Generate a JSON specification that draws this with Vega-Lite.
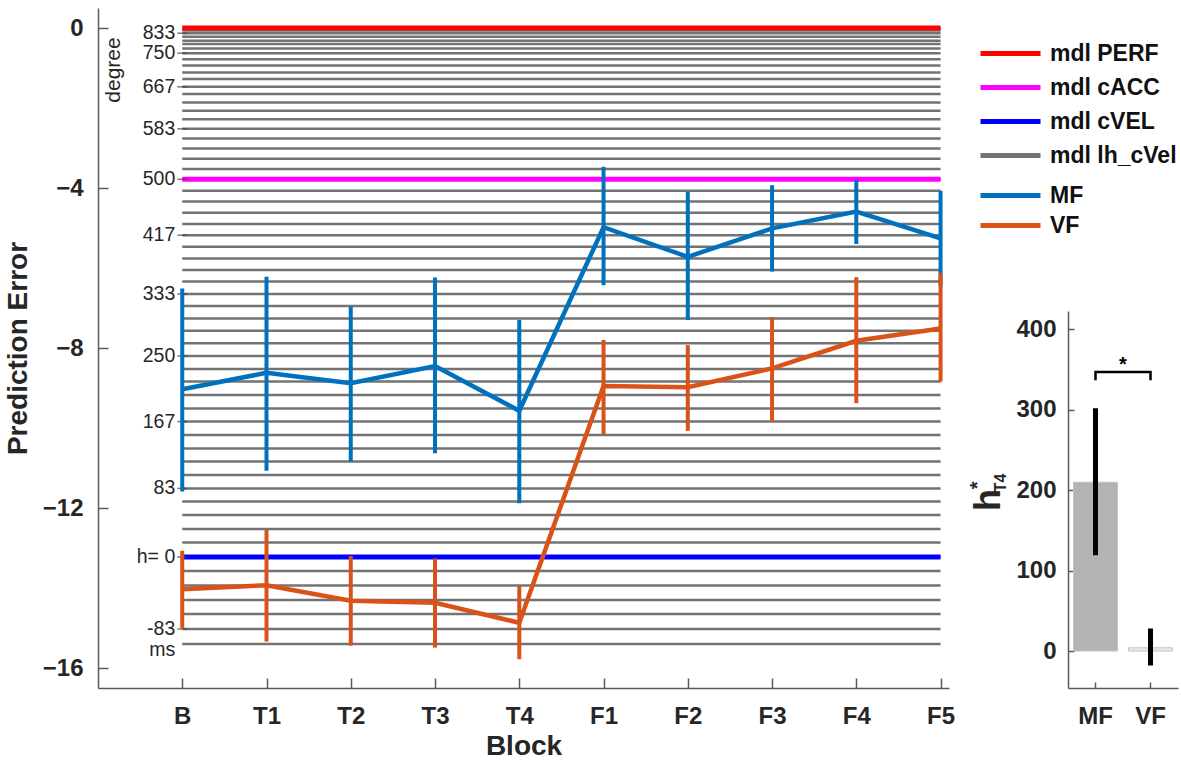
{
  "$schema": "https://vega.github.io/schema/vega-lite/v6.json",
  "padding": {"left": 4, "top": 8, "right": 3, "bottom": 3},
  "background": "white",
  "config": {
    "view": {"stroke": null},
    "font": "Liberation Sans",
    "axis": {
      "labelFont": "Liberation Sans", "labelFontWeight": "bold", "labelFontSize": 24, "labelColor": "#262626",
      "titleFont": "Liberation Sans", "titleFontWeight": "bold", "titleFontSize": 28, "titleColor": "#262626",
      "domainColor": "#5a5a5a", "domainWidth": 1.5, "tickColor": "#5a5a5a", "tickWidth": 1.5, "grid": false
    },
    "legend": {
      "orient": "none", "title": null,
      "labelFont": "Liberation Sans", "labelFontSize": 23, "labelFontWeight": "bold", "labelColor": "#111111",
      "symbolType": "M-3,0H3", "symbolSize": 400, "symbolStrokeWidth": 5,
      "symbolOffset": 20, "labelOffset": 27
    }
  },
  "datasets": {
    "models": [
      {"model": "mdl PERF", "h": null, "pe": 0},
      {"model": "mdl cACC", "h": 500, "pe": -3.78},
      {"model": "mdl cVEL", "h": 0, "pe": -13.225},
      {"model": "mdl lh_cVel", "h": -100, "pe": -15.4},
      {"model": "mdl lh_cVel", "h": -83, "pe": -15.025},
      {"model": "mdl lh_cVel", "h": -67, "pe": -14.65},
      {"model": "mdl lh_cVel", "h": -50, "pe": -14.3},
      {"model": "mdl lh_cVel", "h": -33, "pe": -13.94},
      {"model": "mdl lh_cVel", "h": -17, "pe": -13.575},
      {"model": "mdl lh_cVel", "h": 0, "pe": -13.225},
      {"model": "mdl lh_cVel", "h": 17, "pe": -12.86},
      {"model": "mdl lh_cVel", "h": 33, "pe": -12.525},
      {"model": "mdl lh_cVel", "h": 50, "pe": -12.175},
      {"model": "mdl lh_cVel", "h": 67, "pe": -11.84},
      {"model": "mdl lh_cVel", "h": 83, "pe": -11.51},
      {"model": "mdl lh_cVel", "h": 100, "pe": -11.175},
      {"model": "mdl lh_cVel", "h": 117, "pe": -10.84},
      {"model": "mdl lh_cVel", "h": 133, "pe": -10.51},
      {"model": "mdl lh_cVel", "h": 150, "pe": -10.175},
      {"model": "mdl lh_cVel", "h": 167, "pe": -9.84},
      {"model": "mdl lh_cVel", "h": 183, "pe": -9.51},
      {"model": "mdl lh_cVel", "h": 200, "pe": -9.175},
      {"model": "mdl lh_cVel", "h": 217, "pe": -8.84},
      {"model": "mdl lh_cVel", "h": 233, "pe": -8.525},
      {"model": "mdl lh_cVel", "h": 250, "pe": -8.2},
      {"model": "mdl lh_cVel", "h": 267, "pe": -7.88},
      {"model": "mdl lh_cVel", "h": 283, "pe": -7.57},
      {"model": "mdl lh_cVel", "h": 300, "pe": -7.26},
      {"model": "mdl lh_cVel", "h": 317, "pe": -6.95},
      {"model": "mdl lh_cVel", "h": 333, "pe": -6.65},
      {"model": "mdl lh_cVel", "h": 350, "pe": -6.34},
      {"model": "mdl lh_cVel", "h": 367, "pe": -6.05},
      {"model": "mdl lh_cVel", "h": 383, "pe": -5.76},
      {"model": "mdl lh_cVel", "h": 400, "pe": -5.47},
      {"model": "mdl lh_cVel", "h": 417, "pe": -5.18},
      {"model": "mdl lh_cVel", "h": 433, "pe": -4.9},
      {"model": "mdl lh_cVel", "h": 450, "pe": -4.62},
      {"model": "mdl lh_cVel", "h": 467, "pe": -4.34},
      {"model": "mdl lh_cVel", "h": 483, "pe": -4.07},
      {"model": "mdl lh_cVel", "h": 500, "pe": -3.78},
      {"model": "mdl lh_cVel", "h": 517, "pe": -3.525},
      {"model": "mdl lh_cVel", "h": 533, "pe": -3.27},
      {"model": "mdl lh_cVel", "h": 550, "pe": -3.01},
      {"model": "mdl lh_cVel", "h": 567, "pe": -2.76},
      {"model": "mdl lh_cVel", "h": 583, "pe": -2.52},
      {"model": "mdl lh_cVel", "h": 600, "pe": -2.28},
      {"model": "mdl lh_cVel", "h": 617, "pe": -2.07},
      {"model": "mdl lh_cVel", "h": 633, "pe": -1.86},
      {"model": "mdl lh_cVel", "h": 650, "pe": -1.65},
      {"model": "mdl lh_cVel", "h": 667, "pe": -1.47},
      {"model": "mdl lh_cVel", "h": 683, "pe": -1.275},
      {"model": "mdl lh_cVel", "h": 700, "pe": -1.11},
      {"model": "mdl lh_cVel", "h": 717, "pe": -0.94},
      {"model": "mdl lh_cVel", "h": 733, "pe": -0.78},
      {"model": "mdl lh_cVel", "h": 750, "pe": -0.63},
      {"model": "mdl lh_cVel", "h": 767, "pe": -0.51},
      {"model": "mdl lh_cVel", "h": 783, "pe": -0.4},
      {"model": "mdl lh_cVel", "h": 800, "pe": -0.32},
      {"model": "mdl lh_cVel", "h": 817, "pe": -0.22},
      {"model": "mdl lh_cVel", "h": 833, "pe": -0.13},
      {"model": "mdl lh_cVel", "h": 850, "pe": -0.065},
      {"model": "mdl lh_cVel", "h": 867, "pe": -0.02}
    ],
    "hlabels": [
      {"lab": "833", "pe": -0.13},
      {"lab": "750", "pe": -0.63},
      {"lab": "667", "pe": -1.47},
      {"lab": "583", "pe": -2.52},
      {"lab": "500", "pe": -3.78},
      {"lab": "417", "pe": -5.18},
      {"lab": "333", "pe": -6.65},
      {"lab": "250", "pe": -8.2},
      {"lab": "167", "pe": -9.84},
      {"lab": "83", "pe": -11.51},
      {"lab": "h= 0", "pe": -13.225},
      {"lab": "-83", "pe": -15.025}
    ],
    "units": [
      {"lab": "ms", "pe": -15.55, "rot": 0},
      {"lab": "degree", "pe": -1.05, "rot": 270}
    ],
    "perf": [
      {"block": "B", "grp": "MF", "mean": -9.03, "lo": -11.59, "hi": -6.51},
      {"block": "T1", "grp": "MF", "mean": -8.62, "lo": -11.07, "hi": -6.22},
      {"block": "T2", "grp": "MF", "mean": -8.88, "lo": -10.84, "hi": -6.97},
      {"block": "T3", "grp": "MF", "mean": -8.45, "lo": -10.63, "hi": -6.24},
      {"block": "T4", "grp": "MF", "mean": -9.57, "lo": -11.88, "hi": -7.3},
      {"block": "F1", "grp": "MF", "mean": -4.98, "lo": -6.43, "hi": -3.47},
      {"block": "F2", "grp": "MF", "mean": -5.72, "lo": -7.3, "hi": -4.09},
      {"block": "F3", "grp": "MF", "mean": -5.01, "lo": -6.09, "hi": -3.93},
      {"block": "F4", "grp": "MF", "mean": -4.59, "lo": -5.4, "hi": -3.8},
      {"block": "F5", "grp": "MF", "mean": -5.26, "lo": -6.45, "hi": -4.07},
      {"block": "B", "grp": "VF", "mean": -14.03, "lo": -15.01, "hi": -13.07},
      {"block": "T1", "grp": "VF", "mean": -13.93, "lo": -15.34, "hi": -12.55},
      {"block": "T2", "grp": "VF", "mean": -14.32, "lo": -15.44, "hi": -13.2},
      {"block": "T3", "grp": "VF", "mean": -14.37, "lo": -15.49, "hi": -13.26},
      {"block": "T4", "grp": "VF", "mean": -14.87, "lo": -15.78, "hi": -13.95},
      {"block": "F1", "grp": "VF", "mean": -8.95, "lo": -10.15, "hi": -7.8},
      {"block": "F2", "grp": "VF", "mean": -8.98, "lo": -10.07, "hi": -7.93},
      {"block": "F3", "grp": "VF", "mean": -8.51, "lo": -9.84, "hi": -7.23},
      {"block": "F4", "grp": "VF", "mean": -7.82, "lo": -9.38, "hi": -6.23},
      {"block": "F5", "grp": "VF", "mean": -7.51, "lo": -8.84, "hi": -6.13}
    ],
    "inset": [
      {"grp": "MF", "h": 210, "lo": 119, "hi": 302},
      {"grp": "VF", "h": 4, "lo": -18, "hi": 28}
    ],
    "bracket": [
      {"grp": "MF", "v": 337, "o": 0},
      {"grp": "MF", "v": 347, "o": 1},
      {"grp": "VF", "v": 347, "o": 2},
      {"grp": "VF", "v": 337, "o": 3}
    ]
  },
  "spacing": 119,
  "bounds": "flush",
  "hconcat": [
    {
      "width": 851,
      "height": 680,
      "layer": [
        {
          "data": {"name": "models"},
          "transform": [{"filter": "datum.model === 'mdl lh_cVel'"}],
          "mark": {"type": "rule", "strokeWidth": 2.5},
          "encoding": {
            "x": {"datum": "B", "type": "ordinal", "title": "Block",
              "scale": {"type": "point", "domain": ["B","T1","T2","T3","T4","F1","F2","F3","F4","F5"], "padding": 0.55, "align": 0.909},
              "axis": {"labelAngle": 0, "tickSize": -10, "labelPadding": 26, "titlePadding": 4}},
            "x2": {"datum": "F5"},
            "y": {"field": "pe", "type": "quantitative", "title": "Prediction Error",
              "scale": {"domain": [-16.5, 0.5], "nice": false, "zero": false},
              "axis": {"values": [-16, -12, -8, -4, 0], "tickSize": -10, "labelPadding": 25, "titlePadding": 10}},
            "stroke": {"field": "model", "type": "nominal",
              "scale": {"domain": ["mdl PERF", "mdl cACC", "mdl cVEL", "mdl lh_cVel"], "range": ["#ff0000", "#ff00ff", "#0000ff", "#737373"]},
              "legend": {"legendX": 880, "legendY": 33, "rowPadding": 9}}
          }
        },
        {
          "data": {"name": "models"},
          "transform": [{"filter": "datum.model !== 'mdl lh_cVel'"}],
          "mark": {"type": "rule", "strokeWidth": 5},
          "encoding": {
            "x": {"datum": "B", "type": "ordinal", "title": "Block"},
            "x2": {"datum": "F5"},
            "y": {"field": "pe", "type": "quantitative", "title": "Prediction Error"},
            "stroke": {"field": "model", "type": "nominal"}
          }
        },
        {
          "data": {"name": "hlabels"},
          "mark": {"type": "tick", "size": 10, "thickness": 1.5, "color": "#444444"},
          "encoding": {
            "x": {"datum": "B", "type": "ordinal", "title": "Block"},
            "y": {"field": "pe", "type": "quantitative", "title": "Prediction Error"}
          }
        },
        {
          "data": {"name": "hlabels"},
          "mark": {"type": "text", "align": "right", "baseline": "middle", "dx": -7, "fontSize": 19.5, "color": "#262626"},
          "encoding": {
            "x": {"datum": "B", "type": "ordinal", "title": "Block"},
            "y": {"field": "pe", "type": "quantitative", "title": "Prediction Error"},
            "text": {"field": "lab"}
          }
        },
        {
          "data": {"name": "units"},
          "transform": [{"filter": "datum.rot === 0"}],
          "mark": {"type": "text", "align": "right", "baseline": "middle", "dx": -7, "fontSize": 19.5, "color": "#262626"},
          "encoding": {
            "x": {"datum": "B", "type": "ordinal", "title": "Block"},
            "y": {"field": "pe", "type": "quantitative", "title": "Prediction Error"},
            "text": {"field": "lab"}
          }
        },
        {
          "data": {"name": "units"},
          "transform": [{"filter": "datum.rot === 270"}],
          "mark": {"type": "text", "align": "center", "baseline": "middle", "angle": 270, "dy": -68, "fontSize": 21, "color": "#262626"},
          "encoding": {
            "x": {"datum": "B", "type": "ordinal", "title": "Block"},
            "y": {"field": "pe", "type": "quantitative", "title": "Prediction Error"},
            "text": {"field": "lab"}
          }
        },
        {
          "data": {"name": "perf"},
          "mark": {"type": "rule", "strokeWidth": 4},
          "encoding": {
            "x": {"field": "block", "type": "ordinal", "title": "Block"},
            "y": {"field": "lo", "type": "quantitative", "title": "Prediction Error"},
            "y2": {"field": "hi"},
            "color": {"field": "grp", "type": "nominal",
              "scale": {"domain": ["MF", "VF"], "range": ["#0072bd", "#d95319"]},
              "legend": {"legendX": 880, "legendY": 175, "rowPadding": 5}}
          }
        },
        {
          "data": {"name": "perf"},
          "mark": {"type": "line", "strokeWidth": 4.5},
          "encoding": {
            "x": {"field": "block", "type": "ordinal", "title": "Block", "sort": ["B","T1","T2","T3","T4","F1","F2","F3","F4","F5"]},
            "y": {"field": "mean", "type": "quantitative", "title": "Prediction Error"},
            "color": {"field": "grp", "type": "nominal"}
          }
        }
      ]
    },
    {
      "bounds": "flush",
      "spacing": 0,
      "vconcat": [
        {
          "width": 110,
          "height": 303,
          "data": {"values": []},
          "mark": {"type": "text"},
          "encoding": {}
        },
        {
          "width": 110,
          "height": 377,
          "layer": [
            {
              "data": {"name": "inset"},
              "mark": {"type": "bar", "stroke": "#c4c4c4", "strokeWidth": 1},
              "encoding": {
                "x": {"field": "grp", "type": "nominal", "title": null,
                  "scale": {"type": "band", "paddingInner": 0.2, "paddingOuter": 0.1},
                  "axis": {"labelAngle": 0, "tickSize": -6, "labelPadding": 22}},
                "y": {"field": "h", "type": "quantitative", "title": "h",
                  "scale": {"domain": [-46, 423], "nice": false, "zero": false},
                  "axis": {"values": [0, 100, 200, 300, 400], "tickSize": -6, "labelPadding": 18, "titlePadding": 8, "titleFontSize": 36}},
                "y2": {"datum": 0},
                "fill": {"field": "grp", "type": "nominal",
                  "scale": {"domain": ["MF", "VF"], "range": ["#b3b3b3", "#ebebeb"]}, "legend": null}
              }
            },
            {
              "data": {"name": "inset"},
              "mark": {"type": "rule", "strokeWidth": 5, "color": "black"},
              "encoding": {
                "x": {"field": "grp", "type": "nominal", "title": null},
                "y": {"field": "lo", "type": "quantitative", "title": "h"},
                "y2": {"field": "hi"}
              }
            },
            {
              "data": {"name": "bracket"},
              "mark": {"type": "line", "strokeWidth": 2.5, "color": "black"},
              "encoding": {
                "x": {"field": "grp", "type": "nominal", "title": null},
                "y": {"field": "v", "type": "quantitative", "title": "h"},
                "order": {"field": "o"}
              }
            },
            {
              "data": {"values": [{"grp": "MF", "v": 347, "t": "*"}]},
              "mark": {"type": "text", "align": "center", "baseline": "alphabetic", "dx": 27.5, "dy": -1, "fontSize": 20, "fontWeight": "bold", "color": "black"},
              "encoding": {
                "x": {"field": "grp", "type": "nominal", "title": null},
                "y": {"field": "v", "type": "quantitative", "title": "h"},
                "text": {"field": "t"}
              }
            },
            {
              "data": {"values": [{"grp": "MF", "v": 209, "t": "T4"}]},
              "mark": {"type": "text", "align": "center", "baseline": "middle", "angle": 270, "dy": -95, "fontSize": 16, "fontWeight": "bold", "color": "#262626"},
              "encoding": {
                "x": {"field": "grp", "type": "nominal", "title": null},
                "y": {"field": "v", "type": "quantitative", "title": "h"},
                "text": {"field": "t"}
              }
            },
            {
              "data": {"values": [{"grp": "MF", "v": 206, "t": "*"}]},
              "mark": {"type": "text", "align": "center", "baseline": "middle", "angle": 270, "dy": -118, "fontSize": 20, "fontWeight": "bold", "color": "#262626"},
              "encoding": {
                "x": {"field": "grp", "type": "nominal", "title": null},
                "y": {"field": "v", "type": "quantitative", "title": "h"},
                "text": {"field": "t"}
              }
            }
          ]
        }
      ]
    }
  ]
}
